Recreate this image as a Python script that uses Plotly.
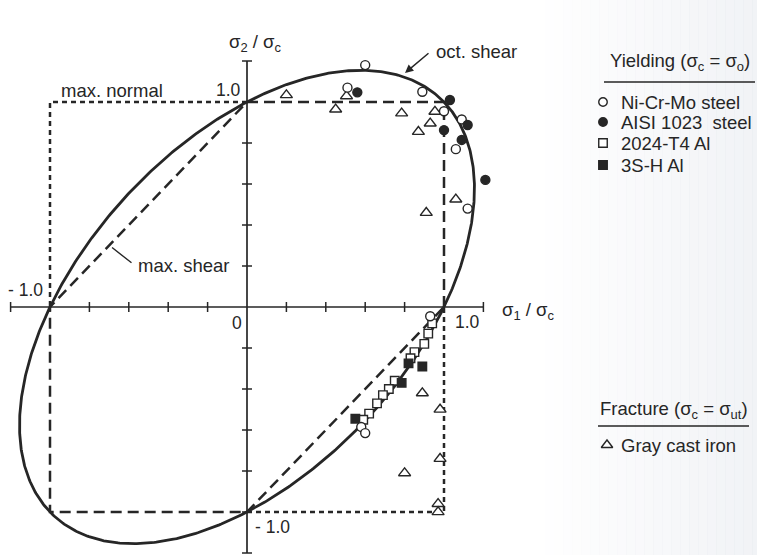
import numpy as np
import plotly.graph_objects as go

W, H = 757, 555
INK = "#262626"
FONT = "Liberation Sans, Arial, Helvetica, sans-serif"

# Frame: sigma1 = 0 sits 247 px from the left, 197 px per unit;
#        sigma2 = 0 sits 307 px from the top, 205 px per unit.
X0_PX, XS = 247.0, 197.0
Y0_PX, YS = 307.0, 205.0
x_range = [-X0_PX / XS, (W - X0_PX) / XS]
y_range = [-(H - Y0_PX) / YS, Y0_PX / YS]


def px_to_s1(px):
    return (px - X0_PX) / XS


def px_to_s2(py):
    return (Y0_PX - py) / YS


# ---- test data (sigma1/sigma_c, sigma2/sigma_c) ----
# Yielding, sigma_c = sigma_o
nicrmo_s1 = [0.60, 0.51, 0.89, 1.00, 1.09, 1.06, 1.12, 0.93, 0.58, 0.60]
nicrmo_s2 = [1.18, 1.07, 1.05, 0.955, 0.915, 0.77, 0.48, -0.045, -0.585, -0.615]

aisi_s1 = [0.56, 1.03, 1.00, 1.12, 1.09, 1.21]
aisi_s2 = [1.047, 1.01, 0.863, 0.888, 0.815, 0.62]

al2024_s1 = [0.94, 0.92, 0.90, 0.85, 0.83, 0.75, 0.72, 0.69, 0.66, 0.62, 0.59]
al2024_s2 = [-0.08, -0.13, -0.18, -0.22, -0.25, -0.36, -0.40, -0.43, -0.47, -0.52, -0.55]

al3sh_s1 = [0.82, 0.89, 0.785, 0.55]
al3sh_s2 = [-0.275, -0.29, -0.37, -0.545]

# Fracture, sigma_c = sigma_ut
iron_s1 = [0.20, 0.45, 0.505, 0.785, 0.954, 0.93, 0.87, 0.91, 1.06,
           0.89, 0.98, 0.98, 0.80, 0.97, 0.97]
iron_s2 = [1.034, 0.964, 1.029, 0.945, 0.953, 0.896, 0.855, 0.46, 0.525,
           -0.42, -0.50, -0.74, -0.81, -0.96, -1.0]

# ---- failure loci ----
# maximum shear (Tresca) hexagon
shear_s1 = [1, 1, 0, -1, -1, 0, 1]
shear_s2 = [0, 1, 1, 0, -1, -1, 0]
# maximum normal stress square (parts not shared with the hexagon)
normal_s1 = [0, -1, -1, None, 0, 1, 1]
normal_s2 = [1, 1, 0, None, -1, -1, 0]

# octahedral shear: s1^2 - s1*s2 + s2^2 = 1
theta = np.linspace(0, 2 * np.pi, 721)
u = np.sqrt(2.0) * np.cos(theta)
v = np.sqrt(2.0 / 3.0) * np.sin(theta)
oct_s1 = (u + v) / np.sqrt(2.0)
oct_s2 = (u - v) / np.sqrt(2.0)

# axes and ticks
tick_vals = [round(-1.2 + 0.2 * i, 1) for i in range(13)]
AX_LIM = 1.2
tl_y = 5.0 / YS
tl_x = 5.0 / XS

fig = go.Figure()

# right-hand paper tint of the page
for i in range(24):
    x0 = (545 + i * 9) / W
    fig.add_shape(type="rect", xref="paper", yref="paper", x0=x0, x1=x0 + 9.5 / W,
                  y0=0, y1=1, fillcolor="#dfe3ea", opacity=0.02 + 0.018 * i,
                  line_width=0, layer="below")

# axes
fig.add_trace(go.Scatter(x=[-AX_LIM, AX_LIM], y=[0, 0], mode="lines",
                         line=dict(color=INK, width=1.7), hoverinfo="skip"))
fig.add_trace(go.Scatter(x=[0, 0], y=[-AX_LIM, AX_LIM], mode="lines",
                         line=dict(color=INK, width=1.7), hoverinfo="skip"))
tx, ty = [], []
for t in tick_vals:
    if t == 0:
        continue
    tx += [t, t, None]
    ty += [-tl_y, tl_y, None]
    tx += [-tl_x, tl_x, None]
    ty += [t, t, None]
fig.add_trace(go.Scatter(x=tx, y=ty, mode="lines",
                         line=dict(color=INK, width=1.5), hoverinfo="skip"))

# failure loci
fig.add_trace(go.Scatter(x=normal_s1, y=normal_s2, mode="lines",
                         line=dict(color=INK, width=2.5, dash="5px,4px"),
                         hoverinfo="skip"))
fig.add_trace(go.Scatter(x=shear_s1, y=shear_s2, mode="lines",
                         line=dict(color=INK, width=2.5, dash="11px,6px"),
                         hoverinfo="skip"))
fig.add_trace(go.Scatter(x=oct_s1, y=oct_s2, mode="lines",
                         line=dict(color=INK, width=2.8), hoverinfo="skip"))

open_line = dict(color=INK, width=1.4)
series = [
    (iron_s1, iron_s2, "triangle-up", "white", 10.5),
    (al2024_s1, al2024_s2, "square", "white", 8.5),
    (al3sh_s1, al3sh_s2, "square", INK, 8.5),
    (nicrmo_s1, nicrmo_s2, "circle", "white", 9),
    (aisi_s1, aisi_s2, "circle", INK, 9),
]
for xs, ys, sym, fill, size in series:
    fig.add_trace(go.Scatter(x=xs, y=ys, mode="markers",
                             marker=dict(symbol=sym, size=size, color=fill,
                                         line=open_line),
                             hoverinfo="skip"))

# legend keys
leg_x = px_to_s1(603)
key_rows = [(102, "circle", "white"), (122, "circle", INK),
            (143, "square", "white"), (165, "square", INK)]
for py, sym, fill in key_rows:
    fig.add_trace(go.Scatter(x=[leg_x], y=[px_to_s2(py)], mode="markers",
                             marker=dict(symbol=sym, size=8.5, color=fill, line=open_line),
                             hoverinfo="skip"))
fig.add_trace(go.Scatter(x=[px_to_s1(607)], y=[px_to_s2(445)], mode="markers",
                         marker=dict(symbol="triangle-up", size=10, color="white",
                                     line=open_line),
                         hoverinfo="skip"))

ann = []


def text(x, y, s, xanchor="center", size=18.5):
    ann.append(dict(x=x, y=y, xref="x", yref="y", text=s, showarrow=False,
                    xanchor=xanchor, yanchor="middle",
                    font=dict(family=FONT, size=size, color=INK)))


text(px_to_s1(255), px_to_s2(43), "σ<sub>2</sub> / σ<sub>c</sub>")
text(px_to_s1(528), px_to_s2(311), "σ<sub>1</sub> / σ<sub>c</sub>")
text(px_to_s1(434), px_to_s2(51), "oct. shear", "left")
text(px_to_s1(59), px_to_s2(90), "max. normal", "left")
text(px_to_s1(136), px_to_s2(265), "max. shear", "left")
text(px_to_s1(243), px_to_s2(90), "1.0", "right", 17.5)
text(px_to_s1(45), px_to_s2(290), "- 1.0", "right", 17.5)
text(px_to_s1(237), px_to_s2(323), "0", size=17.5)
text(px_to_s1(453), px_to_s2(322), "1.0", "left", 17.5)
text(px_to_s1(253), px_to_s2(527), "- 1.0", "left", 17.5)

# legend text
text(px_to_s1(608), px_to_s2(62), "Yielding (σ<sub>c</sub> = σ<sub>o</sub>)", "left")
text(px_to_s1(619), px_to_s2(102), "Ni-Cr-Mo steel", "left")
text(px_to_s1(619), px_to_s2(122), "AISI 1023  steel", "left")
text(px_to_s1(619), px_to_s2(143), "2024-T4 Al", "left")
text(px_to_s1(619), px_to_s2(165), "3S-H Al", "left")
text(px_to_s1(598), px_to_s2(410), "Fracture (σ<sub>c</sub> = σ<sub>ut</sub>)", "left")
text(px_to_s1(619), px_to_s2(445), "Gray cast iron", "left")

# arrows / leaders
ann.append(dict(x=px_to_s1(405), y=px_to_s2(73), ax=px_to_s1(430), ay=px_to_s2(52),
                xref="x", yref="y", axref="x", ayref="y", text="", showarrow=True,
                arrowhead=2, arrowsize=1.1, arrowwidth=1.5, arrowcolor=INK))
ann.append(dict(x=-0.685, y=0.29, ax=px_to_s1(133), ay=px_to_s2(264),
                xref="x", yref="y", axref="x", ayref="y", text="", showarrow=True,
                arrowhead=0, arrowwidth=1.4, arrowcolor=INK))

# legend rules
for y_px, x0_px, x1_px in [(82, 604, 755), (426, 598, 749)]:
    fig.add_shape(type="line", xref="paper", yref="paper",
                  x0=x0_px / W, x1=x1_px / W, y0=1 - y_px / H, y1=1 - y_px / H,
                  line=dict(color=INK, width=1.7))

fig.update_layout(
    width=W, height=H, margin=dict(l=0, r=0, t=0, b=0),
    paper_bgcolor="white", plot_bgcolor="rgba(0,0,0,0)",
    showlegend=False, annotations=ann,
    xaxis=dict(range=x_range, visible=False, fixedrange=True),
    yaxis=dict(range=y_range, visible=False, fixedrange=True),
)

fig.write_html("out.html")
